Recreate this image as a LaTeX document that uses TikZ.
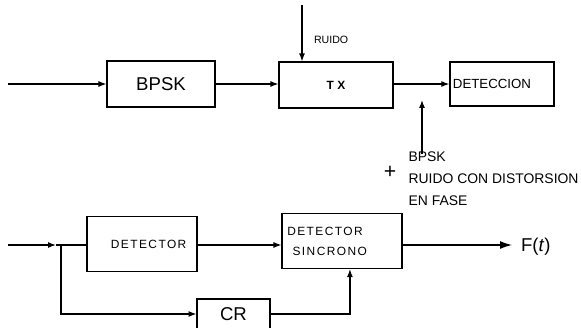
\documentclass[tikz,border=0pt]{standalone}
\usepackage{fontspec}
\setmainfont{Liberation Sans}
\newfontfamily\wide[LetterSpace=12]{Liberation Sans}
\usetikzlibrary{arrows.meta,positioning}

\begin{document}
\begin{tikzpicture}[
  x=0.0265cm, y=-0.0265cm,
  line width=0.9pt,
  font=\fontsize{9}{11}\selectfont,
  box/.style={draw, minimum width=#1, inner sep=2pt},
  arrow/.style={-{Latex[length=6pt,width=4.5pt]}},
  bigarrow/.style={-{Latex[length=9pt,width=6pt]}}
]
\useasboundingbox (0,0) rectangle (581,327);
\clip (0,0) rectangle (581,327);

% upper chain: modulacion y transmision
\node[box=2.86cm, minimum height=1.22cm, font=\fontsize{14}{16}\selectfont] (bpsk) at (161,84) {BPSK};
\node[box=3.02cm, minimum height=1.22cm, font=\bfseries\fontsize{9}{11}\selectfont] (tx) at (336,85) {T X};
\node[box=2.76cm, minimum height=1.17cm, text width=2.6cm, align=left, font=\fontsize{10}{12}\selectfont] (deteccion) at (502,84) {DETECCION\\[4pt]};

\coordinate (in1) at (8,84);
\coordinate (ruido) at (302,5);
\node[anchor=west, font=\fontsize{8}{10}\selectfont] (ruidolbl) at (309,40) {RUIDO};

\draw[arrow] (in1) -- (bpsk.west);
\draw[arrow] (bpsk.east) -- (tx.west |- bpsk.east);
\draw[arrow] (ruido) -- (ruido |- tx.north);
\draw[arrow] (tx.east |- bpsk.east) -- (deteccion.west |- bpsk.east);

% senal recibida
\coordinate (rx) at (422,154);
\coordinate (rxtop) at (422,100);
\draw[arrow] (rx) -- (rxtop);
\node[font=\fontsize{16}{16}\selectfont] (plus) at (390,172) {+};
\node[anchor=north west, align=left, inner sep=0pt, font=\fontsize{10.5}{16.5}\selectfont] (senal) at (408,151) {BPSK\\RUIDO CON DISTORSION\\EN FASE};

% lower chain: deteccion sincrona
\node[box=2.92cm, minimum height=1.46cm, font=\wide\fontsize{9}{11}\selectfont] (detector) at (142,244) {\hspace{10pt}DETECTOR};
\node[box=3.18cm, minimum height=1.46cm, text width=2.9cm, align=left, font=\wide\fontsize{9}{15}\selectfont] (sincrono) at (342,241) {DETECTOR\\\hspace{4pt}SINCRONO};
\node[box=1.93cm, minimum height=0.8cm, font=\fontsize{14}{16}\selectfont] (cr) at (233.5,314) {CR};

\coordinate (in2) at (8,245);
\coordinate (a2) at (56,245);
\coordinate (junct) at (61,245);
\coordinate (out) at (512,245);
\node[anchor=west, font=\fontsize{14}{16}\selectfont] (ft) at (516,247) {F(\textit{t})};

\draw[arrow] (in2) -- (a2);
\draw (a2) -- (detector.west |- a2);
\draw[arrow] (detector.east |- a2) -- (sincrono.west |- a2);
\draw[arrow] (junct) |- (cr.west);
\draw[arrow] (cr.east) -| ([xshift=0.21cm]sincrono.south);
\draw[bigarrow] (sincrono.east |- a2) -- (out);
\end{tikzpicture}
\end{document}
